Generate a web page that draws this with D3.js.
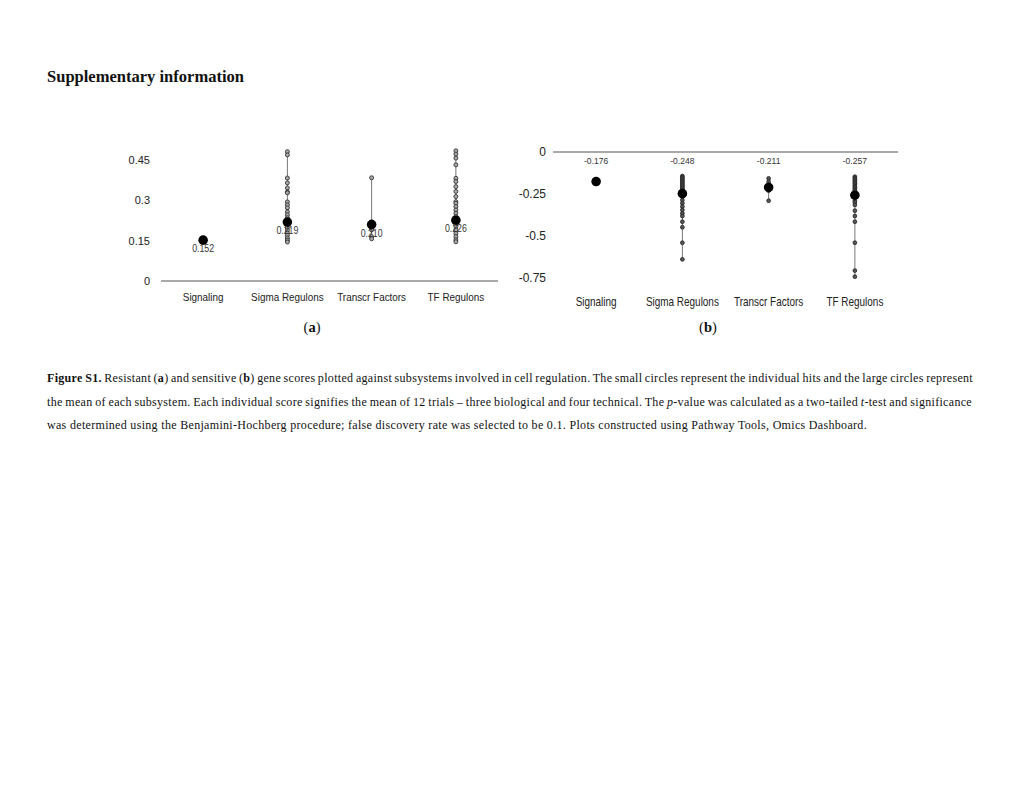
<!DOCTYPE html>
<html><head><meta charset="utf-8">
<script src="https://cdn.jsdelivr.net/npm/d3@7"></script>
<style>html,body{margin:0;padding:0;background:#fff;}svg{display:block;}</style>
</head><body>
<svg id="c" width="1020" height="788"></svg>
<script>
const categories = ["Signaling", "Sigma Regulons", "Transcr Factors", "TF Regulons"];
const resistantMeans = [0.152, 0.219, 0.210, 0.226];
const resistantMeanLabels = ["0.152", "0.219", "0.210", "0.226"];
const sensitiveMeans = [-0.176, -0.248, -0.211, -0.257];
const sensitiveMeanLabels = ["-0.176", "-0.248", "-0.211", "-0.257"];
const resistantHits = [
  [0.152],
  [0.481, 0.469, 0.383, 0.365, 0.346, 0.331, 0.328, 0.294, 0.283, 0.272, 0.257, 0.246, 0.235, 0.227, 0.215, 0.208, 0.197, 0.188, 0.178, 0.170, 0.160, 0.152, 0.145],
  [0.384, 0.220, 0.205, 0.190, 0.165, 0.157],
  [0.484, 0.472, 0.457, 0.432, 0.382, 0.370, 0.351, 0.333, 0.314, 0.295, 0.289, 0.277, 0.264, 0.252, 0.239, 0.227, 0.215, 0.202, 0.190, 0.177, 0.165, 0.153, 0.146]
];
const sensitiveHits = [
  [-0.176],
  [-0.143, -0.150, -0.158, -0.166, -0.174, -0.182, -0.190, -0.198, -0.206, -0.214, -0.222, -0.230, -0.238, -0.245, -0.266, -0.286, -0.305, -0.325, -0.345, -0.365, -0.381, -0.415, -0.448, -0.540, -0.639],
  [-0.157, -0.177, -0.195, -0.216, -0.230, -0.290],
  [-0.147, -0.155, -0.163, -0.171, -0.179, -0.187, -0.195, -0.203, -0.211, -0.219, -0.227, -0.235, -0.243, -0.250, -0.290, -0.300, -0.315, -0.349, -0.381, -0.415, -0.540, -0.706, -0.742]
];
const ticksA = [0, 0.15, 0.3, 0.45];
const tickLabelsA = ["0", "0.15", "0.3", "0.45"];
const ticksB = [0, -0.25, -0.5, -0.75];
const tickLabelsB = ["0", "-0.25", "-0.5", "-0.75"];

const titleText = "Supplementary information";
const captionLines = [
  [{t:"Figure S1.", b:true}, {t:" Resistant ("}, {t:"a", b:true}, {t:") and sensitive ("}, {t:"b", b:true}, {t:") gene scores plotted against subsystems involved in cell regulation. The small circles represent the individual hits and the large circles represent"}],
  [{t:"the mean of each subsystem. Each individual score signifies the mean of 12 trials \u2013 three biological and four technical. The "}, {t:"p", i:true}, {t:"-value was calculated as a two-tailed "}, {t:"t", i:true}, {t:"-test and significance"}],
  [{t:"was determined using the Benjamini-Hochberg procedure; false discovery rate was selected to be 0.1. Plots constructed using Pathway Tools, Omics Dashboard."}]
];

const svg = d3.select("#c");
svg.append("rect").attr("width",1020).attr("height",788).attr("fill","#fff");
const SANS = "'Liberation Sans', Arial, sans-serif";
const SERIF = "'Liberation Serif', 'Times New Roman', serif";

// title
svg.append("text").attr("x",47).attr("y",82).attr("font-family",SERIF).attr("font-weight","bold")
  .attr("font-size",16).attr("fill","#111").attr("textLength",197).attr("lengthAdjust","spacingAndGlyphs").text(titleText);

function panel(opts){
  const g = svg.append("g");
  const x = d3.scaleBand().domain(categories).range(opts.xr).padding(0);
  const y = d3.scaleLinear().domain(opts.dom).range(opts.yr);
  const cx = c => x(c) + x.bandwidth()/2;
  g.append("line").attr("x1",opts.xr[0]).attr("x2",opts.xr[1]).attr("y1",y(0)).attr("y2",y(0))
    .attr("stroke","#555").attr("stroke-width",1);
  const yAxis = d3.axisLeft(y).tickValues(opts.ticks).tickFormat((d,i)=>opts.tickLabels[i]).tickSize(0).tickPadding(0);
  const ya = g.append("g").attr("transform",`translate(${opts.tickX},0)`).call(yAxis);
  ya.select(".domain").remove();
  ya.selectAll("text").attr("font-family",SANS).attr("font-size",opts.fs).attr("fill","#222");
  const xa = g.append("g").attr("transform",`translate(0,${opts.catY})`).call(d3.axisBottom(x).tickSize(0).tickPadding(0));
  xa.select(".domain").remove();
  xa.selectAll("text").attr("font-family",SANS).attr("font-size",opts.fs).attr("fill","#222").attr("dy","0")
    .attr("transform",`scale(${opts.catScale},1)`);
  categories.forEach((c,i)=>{
    const h = opts.hits[i];
    if (h.length>1){
      g.append("line").attr("x1",cx(c)).attr("x2",cx(c)).attr("y1",y(d3.min(h))).attr("y2",y(d3.max(h)))
        .attr("stroke","#777").attr("stroke-width",1);
    }
    g.selectAll(null).data(h).join("circle").attr("cx",cx(c)).attr("cy",d=>y(d)).attr("r",opts.dotR)
      .attr("fill",opts.dotFill).attr("stroke","#222").attr("stroke-width",0.8);
  });
  g.selectAll(null).data(categories).join("circle").attr("cx",c=>cx(c)).attr("cy",(c,i)=>y(opts.means[i]))
    .attr("r",4.8).attr("fill","#000");
  g.selectAll(null).data(categories).join("text").attr("x",0).attr("y",0)
    .attr("transform",(c,i)=>`translate(${cx(c)},${opts.labelFixedY!=null ? opts.labelFixedY : y(opts.means[i])+12}) scale(${opts.lScale},1)`)
    .attr("text-anchor","middle").attr("font-family",SANS).attr("font-size",opts.lfs).attr("fill","#333")
    .text((c,i)=>opts.meanLabels[i]);
}

panel({xr:[161,498], dom:[0,0.45], yr:[281,160], ticks:ticksA, tickLabels:tickLabelsA, tickX:150, fs:11, catScale:0.9,
  catY:301, hits:resistantHits, means:resistantMeans, meanLabels:resistantMeanLabels, lfs:10, lScale:0.88, labelFixedY:null, dotFill:"#aaa", dotR:2});
panel({xr:[553,898], dom:[-0.75,0], yr:[278,152], ticks:ticksB, tickLabels:tickLabelsB, tickX:546, fs:12, catScale:0.83,
  catY:306, hits:sensitiveHits, means:sensitiveMeans, meanLabels:sensitiveMeanLabels, lfs:9, lScale:0.95, labelFixedY:164, dotFill:"#555", dotR:1.9});

[["a",312],["b",708]].forEach(([l,xx])=>{
  const t = svg.append("text").attr("x",xx).attr("y",332).attr("text-anchor","middle")
    .attr("font-family",SERIF).attr("font-size",14.5).attr("fill","#111");
  t.append("tspan").text("(");
  t.append("tspan").attr("font-weight","bold").text(l);
  t.append("tspan").text(")");
});

// caption
const capY = [382, 406, 429];
const capRight = [973, 972, 867];
const nodes = captionLines.map((parts,li)=>{
  const t = svg.append("text").attr("x",47).attr("y",capY[li]).attr("font-family",SERIF)
    .attr("font-size",12).attr("fill","#111");
  parts.forEach(p=>{
    const s = t.append("tspan").text(p.t);
    if (p.b) s.attr("font-weight","bold");
    if (p.i) s.attr("font-style","italic");
  });
  return t;
});
// letter-spacing from the unjustified last line, then word-spacing to justify the others
const last = nodes[2];
const fullLast = captionLines[2].map(p=>p.t).join("");
const ls = (capRight[2]-47 - last.node().getComputedTextLength())/fullLast.length;
nodes.forEach((t,li)=>{
  t.attr("letter-spacing", ls);
  if (li<2){
    const w = t.node().getComputedTextLength();
    const full = captionLines[li].map(p=>p.t).join("");
    const spaces = (full.match(/ /g)||[]).length;
    t.attr("word-spacing", (capRight[li]-47 - w)/spaces);
  }
});
</script>
</body></html>
